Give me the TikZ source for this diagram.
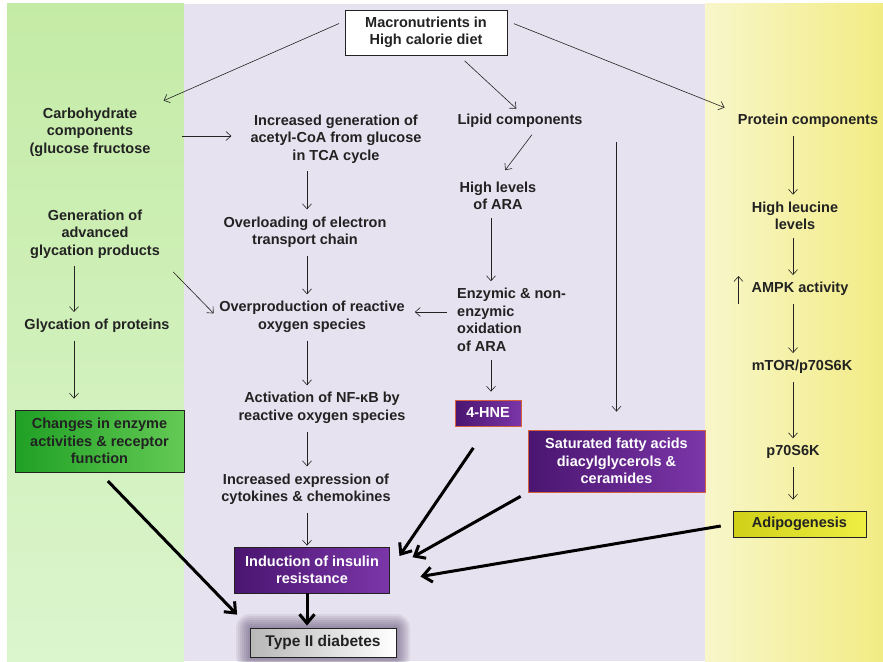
\documentclass[tikz,border=0pt]{standalone}
\usepackage{fontspec}
\setsansfont{Liberation Sans}
\usepackage{tikz}
\usetikzlibrary{arrows.meta,positioning,calc}
\definecolor{MetGreenHi}{HTML}{C4EBA6}
\definecolor{MetGreenLo}{HTML}{DBF5CD}
\definecolor{MetLilac}{HTML}{E7E2EF}
\definecolor{MetYellowLo}{HTML}{F8F6CA}
\definecolor{MetYellowHi}{HTML}{F2EC84}
\definecolor{MetInk}{HTML}{222222}
\definecolor{MetPurpleDk}{HTML}{4A1570}
\definecolor{MetPurpleLt}{HTML}{7B36A8}
\definecolor{MetRim}{HTML}{D8603C}
\definecolor{MetGreenDk}{HTML}{1FA024}
\definecolor{MetGreenLt}{HTML}{64CA55}
\definecolor{MetGold}{HTML}{D0D018}
\definecolor{MetGoldLt}{HTML}{EEEE44}
\definecolor{MetGlow}{HTML}{4E3E66}
\newcommand{\lbl}{\sffamily\bfseries\fontsize{14.5}{17.5}\selectfont}
\tikzset{
  steplabel/.style={font=\lbl,text=MetInk,align=center,inner sep=2pt},
  pathbox/.style={draw=MetInk,line width=0.8pt,font=\lbl,text=MetInk,align=center,inner sep=2pt},
  purplebox/.style={pathbox,left color=MetPurpleDk,right color=MetPurpleLt,text=white},
  thinarrow/.style={-{Straight Barb[length=5pt,width=9pt]},line width=0.6pt,draw=MetInk,shorten <=6pt,shorten >=5pt},
  thickarrow/.style={-{Straight Barb[length=9pt,width=15pt]},line width=3pt,draw=black}
}
\begin{document}
\begin{tikzpicture}[x=1pt,y=-1pt]
\useasboundingbox (0,0) rectangle (883,661);
% background bands
\fill[top color=MetGreenHi,bottom color=MetGreenLo] (7,4) rectangle (184,661);
\fill[MetLilac] (184,4) rectangle (705,661);
\fill[left color=MetYellowLo,right color=MetYellowHi] (705,4) rectangle (883,661);
% arrow columns
\coordinate (colA) at (74,0);
\coordinate (colB) at (307,0);
\coordinate (colC) at (491,0);
\coordinate (colD) at (793,0);

\node[pathbox,fill=white,minimum width=162pt,minimum height=45pt] (macro) at (426,32.5) {Macronutrients in\\High calorie diet};

\node[steplabel] (carb) at (90,132) {Carbohydrate\\components\\(glucose fructose};
\node[steplabel] (acetyl) at (336,139) {Increased generation of\\acetyl-CoA from glucose\\in TCA cycle};
\node[steplabel] (lipid) at (520,121) {Lipid components};
\node[steplabel] (protein) at (808,121) {Protein components};
\node[steplabel] (ara) at (498,196) {High levels\\of ARA};
\node[steplabel] (age) at (95,234) {Generation of\\advanced\\glycation products};
\node[steplabel] (etc) at (305,232) {Overloading of electron\\transport chain};
\node[steplabel] (leucine) at (795,216) {High leucine\\levels};
\node[steplabel] (ampk) at (800,289) {AMPK activity};
\node[steplabel] (glyc) at (97,326) {Glycation of proteins};
\node[steplabel] (ros) at (312,317) {Overproduction of reactive\\oxygen species};
\node[steplabel,align=left,anchor=west] (oxid) at (455,320) {Enzymic \& non-\\enzymic\\oxidation\\of ARA};
\node[steplabel] (mtor) at (802,367) {mTOR/p70S6K};
\node[steplabel] (nfkb) at (322,408) {Activation of NF-κB by\\reactive oxygen species};
\node[steplabel] (p70) at (793,452) {p70S6K};
\node[steplabel] (cyto) at (306,489) {Increased expression of\\cytokines \& chemokines};

\node[purplebox,draw=MetRim,minimum width=66pt,minimum height=26pt] (hne) at (488,413) {4-HNE};
\node[purplebox,draw=MetRim,minimum width=177pt,minimum height=62pt] (sfa) at (616.5,461) {Saturated fatty acids\\diacylglycerols \&\\ceramides};
\node[pathbox,left color=MetGreenDk,right color=MetGreenLt,minimum width=169pt,minimum height=62pt] (enz) at (99.5,441) {Changes in enzyme\\activities \& receptor\\function};
\node[pathbox,left color=MetGold,right color=MetGoldLt,minimum width=133pt,minimum height=26pt] (adipo) at (799.5,524) {Adipogenesis};
\node[purplebox,minimum width=155pt,minimum height=46pt] (ir) at (312,570) {Induction of insulin\\resistance};

% soft halo round the final box
\coordinate (t2dpos) at (323,642.5);
\foreach \g in {14,12,10,8,6,4,2}
  \node[fill=MetGlow,fill opacity=0.09,rounded corners=\g pt,minimum width={146pt+2*\g*1pt},minimum height={29pt+2*\g*1pt}] at (t2dpos) {};
\node[pathbox,left color=black!28,right color=white,minimum width=146pt,minimum height=29pt,font=\sffamily\bfseries\fontsize{15.5}{18}\selectfont] (t2d) at (t2dpos) {Type II diabetes};

% thin connectors
\draw[thinarrow,shorten >=12pt] (macro.172) -- (carb.north east);
\draw[thinarrow,shorten <=8pt] (macro.-35) -- (lipid.north);
\draw[thinarrow,shorten <=7pt,shorten >=12pt] (macro.8) -- (protein.north west);
\draw[thinarrow,shorten <=29pt,shorten >=17pt] ([yshift=-4pt]carb.east) -- ([yshift=-4pt]carb.east -| acetyl.west);
\draw[thinarrow,shorten >=12pt] ($(lipid.south west)!0.62!(lipid.south east)$) -- (ara.north);
\draw[thinarrow,shorten <=12pt,shorten >=18pt] (sfa.north |- lipid.south) -- (sfa.north);
\draw[thinarrow] (protein.south -| colD) -- (leucine.north -| colD);
\draw[thinarrow] (acetyl.south -| colB) -- (etc.north -| colB);
\draw[thinarrow] (ara.south -| colC) -- (oxid.north -| colC);
\draw[thinarrow] (leucine.south -| colD) -- (ampk.north -| colD);
\draw[thinarrow] (age.south -| colA) -- (glyc.north -| colA);
\draw[thinarrow,shorten <=16pt] (age.south east) -- (ros.west);
\draw[thinarrow] (etc.south -| colB) -- (ros.north -| colB);
\draw[thinarrow,shorten <=8pt,shorten >=8pt] ([yshift=5pt]ros.east -| oxid.west) -- ([yshift=5pt]ros.east);
\draw[thinarrow,shorten >=11pt] (glyc.south -| colA) -- (enz.north -| colA);
\draw[thinarrow] (ros.south -| colB) -- (nfkb.north -| colB);
\draw[thinarrow,shorten >=8pt] (oxid.south -| colC) -- (hne.north -| colC);
\draw[thinarrow] (ampk.south -| colD) -- (mtor.north -| colD);
\draw[thinarrow] (mtor.south -| colD) -- (p70.north -| colD);
\draw[thinarrow] (nfkb.south -| colB) -- (cyto.north -| colB);
\draw[thinarrow,shorten >=11pt] (p70.south -| colD) -- (adipo.north -| colD);
\draw[thinarrow,shorten >=1pt] (cyto.south -| colB) -- (ir.north -| colB);
\draw[thinarrow,shorten <=-6pt,shorten >=-4pt] ([xshift=-11pt]ampk.south west) -- ([xshift=-11pt]ampk.north west);

% heavy connectors into insulin resistance and diabetes
\draw[thickarrow,shorten <=12pt,shorten >=18pt] (enz.south) -- (t2d.north west);
\draw[thickarrow,shorten <=26pt,shorten >=17pt] (hne.south) -- (ir.east);
\draw[thickarrow,shorten <=8pt,shorten >=26pt] (sfa.south west) -- (ir.east);
\draw[thickarrow,shorten <=12pt,shorten >=31pt] (adipo.west) -- ($(ir.east)!0.5!(ir.south east)$);
\draw[thickarrow,shorten >=2pt] (ir.south -| colB) -- (t2d.north -| colB);
\end{tikzpicture}
\end{document}
